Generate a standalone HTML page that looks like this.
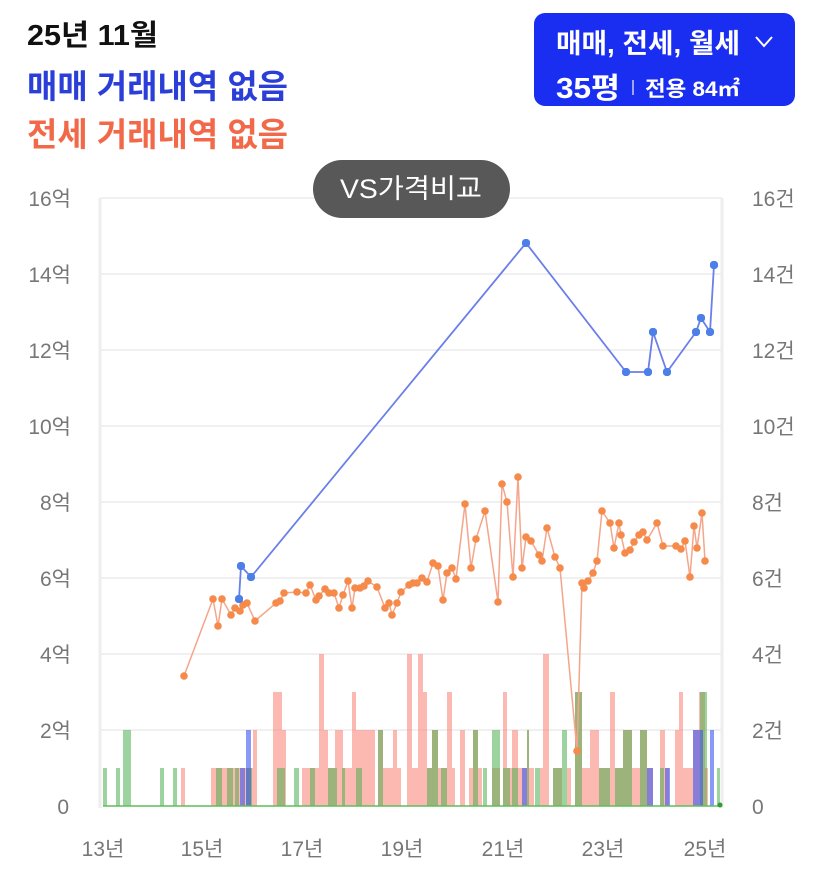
<!DOCTYPE html>
<html><head><meta charset="utf-8"><style>
html,body{margin:0;padding:0;background:#fff;}
body{width:827px;height:873px;overflow:hidden;}
svg text{font-family:"Liberation Sans","Noto Sans CJK KR",sans-serif;}
</style></head><body>
<svg width="827" height="873" viewBox="0 0 827 873" xmlns="http://www.w3.org/2000/svg">
<defs>
<marker id="od" viewBox="0 0 10 10" refX="5" refY="5" markerWidth="7.6" markerHeight="7.6" markerUnits="userSpaceOnUse"><circle cx="5" cy="5" r="5" fill="#f58a4a"/></marker>
<marker id="bd" viewBox="0 0 10 10" refX="5" refY="5" markerWidth="8.4" markerHeight="8.4" markerUnits="userSpaceOnUse"><circle cx="5" cy="5" r="5" fill="#4c7fe8"/></marker>
</defs>
<text x="27" y="45" font-size="29" font-weight="bold" fill="#111" textLength="131" lengthAdjust="spacingAndGlyphs">25년 11월</text>
<text x="27" y="98" font-size="33" font-weight="bold" fill="#2b3fd8" textLength="261" lengthAdjust="spacingAndGlyphs">매매 거래내역 없음</text>
<text x="27" y="146" font-size="33" font-weight="bold" fill="#f2694a" textLength="261" lengthAdjust="spacingAndGlyphs">전세 거래내역 없음</text>
<rect x="534" y="13" width="261" height="93" rx="11" fill="#1a2ef2"/>
<text x="556" y="53" font-size="27" font-weight="bold" fill="#fff" textLength="184" lengthAdjust="spacingAndGlyphs">매매, 전세, 월세</text>
<polyline points="756,37 764,46 772,37" fill="none" stroke="#fff" stroke-width="2"/>
<text x="556" y="98" font-size="29" font-weight="bold" fill="#fff" textLength="64" lengthAdjust="spacingAndGlyphs">35평</text>
<line x1="633" y1="80" x2="633" y2="95" stroke="#c8ccff" stroke-width="1.5"/>
<text x="645" y="96" font-size="21" font-weight="bold" fill="#fff" textLength="95" lengthAdjust="spacingAndGlyphs">전용 84㎡</text>
<path d="M100 198H722M100 274H722M100 350H722M100 426H722M100 502H722M100 578H722M100 654H722M100 730H722" stroke="#ececec" stroke-width="1.5"/>
<path d="M100 198V808M722 198V808" stroke="#eeeeee" stroke-width="3"/>
<g font-size="21" fill="#777" text-anchor="end">
<text x="71" y="206">16억</text><text x="71" y="282">14억</text><text x="71" y="358">12억</text><text x="71" y="434">10억</text><text x="71" y="510">8억</text><text x="71" y="586">6억</text><text x="71" y="662">4억</text><text x="71" y="738">2억</text><text x="69" y="814">0</text>
</g>
<g font-size="21" fill="#777">
<text x="752" y="206">16건</text><text x="752" y="282">14건</text><text x="752" y="358">12건</text><text x="752" y="434">10건</text><text x="752" y="510">8건</text><text x="752" y="586">6건</text><text x="752" y="662">4건</text><text x="752" y="738">2건</text><text x="752" y="814">0</text>
</g>
<g font-size="21" fill="#777" text-anchor="middle">
<text x="103" y="856">13년</text><text x="202" y="856">15년</text><text x="302" y="856">17년</text><text x="402" y="856">19년</text><text x="503" y="856">21년</text><text x="603" y="856">23년</text><text x="705" y="856">25년</text>
</g>
<path fill="#fa8072" fill-opacity="0.55" d="M181 768h4v38h-4zM211 768h42v38h-42zM253 730h4v76h-4zM273 692h9v114h-9zM282 730h4v76h-4zM302 768h17v38h-17zM319 654h5v152h-5zM324 730h4v76h-4zM328 768h7v38h-7zM335 730h8v76h-8zM343 768h9v38h-9zM352 692h4v114h-4zM356 730h19v76h-19zM378 730h5v76h-5zM383 768h10v38h-10zM393 730h4v76h-4zM397 768h4v38h-4zM407 654h5v152h-5zM412 768h6v38h-6zM418 654h5v152h-5zM423 692h4v114h-4zM427 768h5v38h-5zM432 730h6v76h-6zM438 768h9v38h-9zM447 692h5v114h-5zM452 768h3v38h-3zM460 730h5v76h-5zM469 768h4v38h-4zM473 730h5v76h-5zM478 768h4v38h-4zM492 768h8v38h-8zM503 692h4v114h-4zM507 768h5v38h-5zM512 730h6v76h-6zM518 768h9v38h-9zM527 730h2v76h-2zM529 768h5v38h-5zM540 768h3v38h-3zM543 654h6v152h-6zM553 768h9v38h-9zM567 768h4v38h-4zM575 692h7v114h-7zM582 768h8v38h-8zM590 730h9v76h-9zM599 768h11v38h-11zM610 692h5v114h-5zM615 768h8v38h-8zM623 730h9v76h-9zM632 768h8v38h-8zM640 730h7v76h-7zM647 768h6v38h-6zM660 730h5v76h-5zM665 768h4v38h-4zM675 730h4v76h-4zM679 692h4v114h-4zM683 768h10v38h-10zM693 730h6v76h-6zM699 692h6v114h-6zM705 768h3v38h-3z"/>
<path fill="#4caf50" fill-opacity="0.55" d="M103 768h4v38h-4zM116 768h4v38h-4zM123 730h8v76h-8zM160 768h4v38h-4zM173 768h4v38h-4zM216 768h6v38h-6zM227 768h6v38h-6zM235 768h4v38h-4zM246 768h6v38h-6zM277 768h8v38h-8zM294 768h5v38h-5zM310 768h5v38h-5zM328 768h9v38h-9zM342 768h3v38h-3zM356 768h6v38h-6zM378 730h5v76h-5zM427 768h5v38h-5zM432 730h6v76h-6zM441 768h6v38h-6zM473 730h5v76h-5zM483 768h4v38h-4zM492 730h8v76h-8zM503 768h7v38h-7zM512 768h6v38h-6zM527 730h2v76h-2zM535 768h5v38h-5zM553 768h9v38h-9zM562 730h5v76h-5zM575 692h7v114h-7zM599 768h11v38h-11zM615 768h8v38h-8zM623 730h9v76h-9zM640 730h7v76h-7zM660 768h4v38h-4zM700 692h7v114h-7zM717 768h3v38h-3z"/>
<path fill="#3a55f0" fill-opacity="0.6" d="M240 768h5v38h-5zM246 730h5v76h-5zM522 768h5v38h-5zM647 768h6v38h-6zM665 768h5v38h-5zM693 730h10v76h-10zM710 730h4v76h-4z"/>
<line x1="103" y1="806" x2="720" y2="806" stroke="#5cbf5c" stroke-width="1.5"/>
<circle cx="720" cy="805" r="2.5" fill="#2e9e2e"/>
<polyline fill="none" stroke="#f5a58a" stroke-width="1.5" marker-start="url(#od)" marker-mid="url(#od)" marker-end="url(#od)" points="184,676 213,599 218,626 222,599 231,615 235,608 240,611 243,605 247,603 255,621 276,603 280,601 284,593 297,592 306,593 310,585 316,600 319,596 325,589 329,593 334,593 339,608 343,595 348,581 352,608 355,588 360,588 364,586 368,581 377,587 385,608 389,603 392,615 397,603 401,592 409,585 413,583 417,583 422,578 427,582 433,563 438,566 443,600 447,573 452,568 456,579 465,504 471,568 476,539 485,511 498,602 502,484 507,502 513,577 518,477 522,568 526,537 531,541 539,555 542,561 547,528 555,557 560,568 577,751 582,583 584,588 588,581 593,573 597,561 602,511 610,523 614,548 619,523 621,535 625,553 630,550 634,542 639,535 643,532 647,540 657,523 663,546 676,546 681,549 685,541 690,577 694,526 697,548 702,513 705,561"/>
<polyline fill="none" stroke="#6a7fe8" stroke-width="1.8" marker-start="url(#bd)" marker-mid="url(#bd)" marker-end="url(#bd)" points="239,599 241,566 251,577 526,243 626,372 648,372 653,332 667,372 696,332 701,318 710,332 714,265"/>
<rect x="313" y="160" width="197" height="58" rx="29" fill="#585858"/>
<text x="340" y="198" font-size="27" fill="#fff" textLength="142" lengthAdjust="spacingAndGlyphs">VS가격비교</text>
</svg>
</body></html>
